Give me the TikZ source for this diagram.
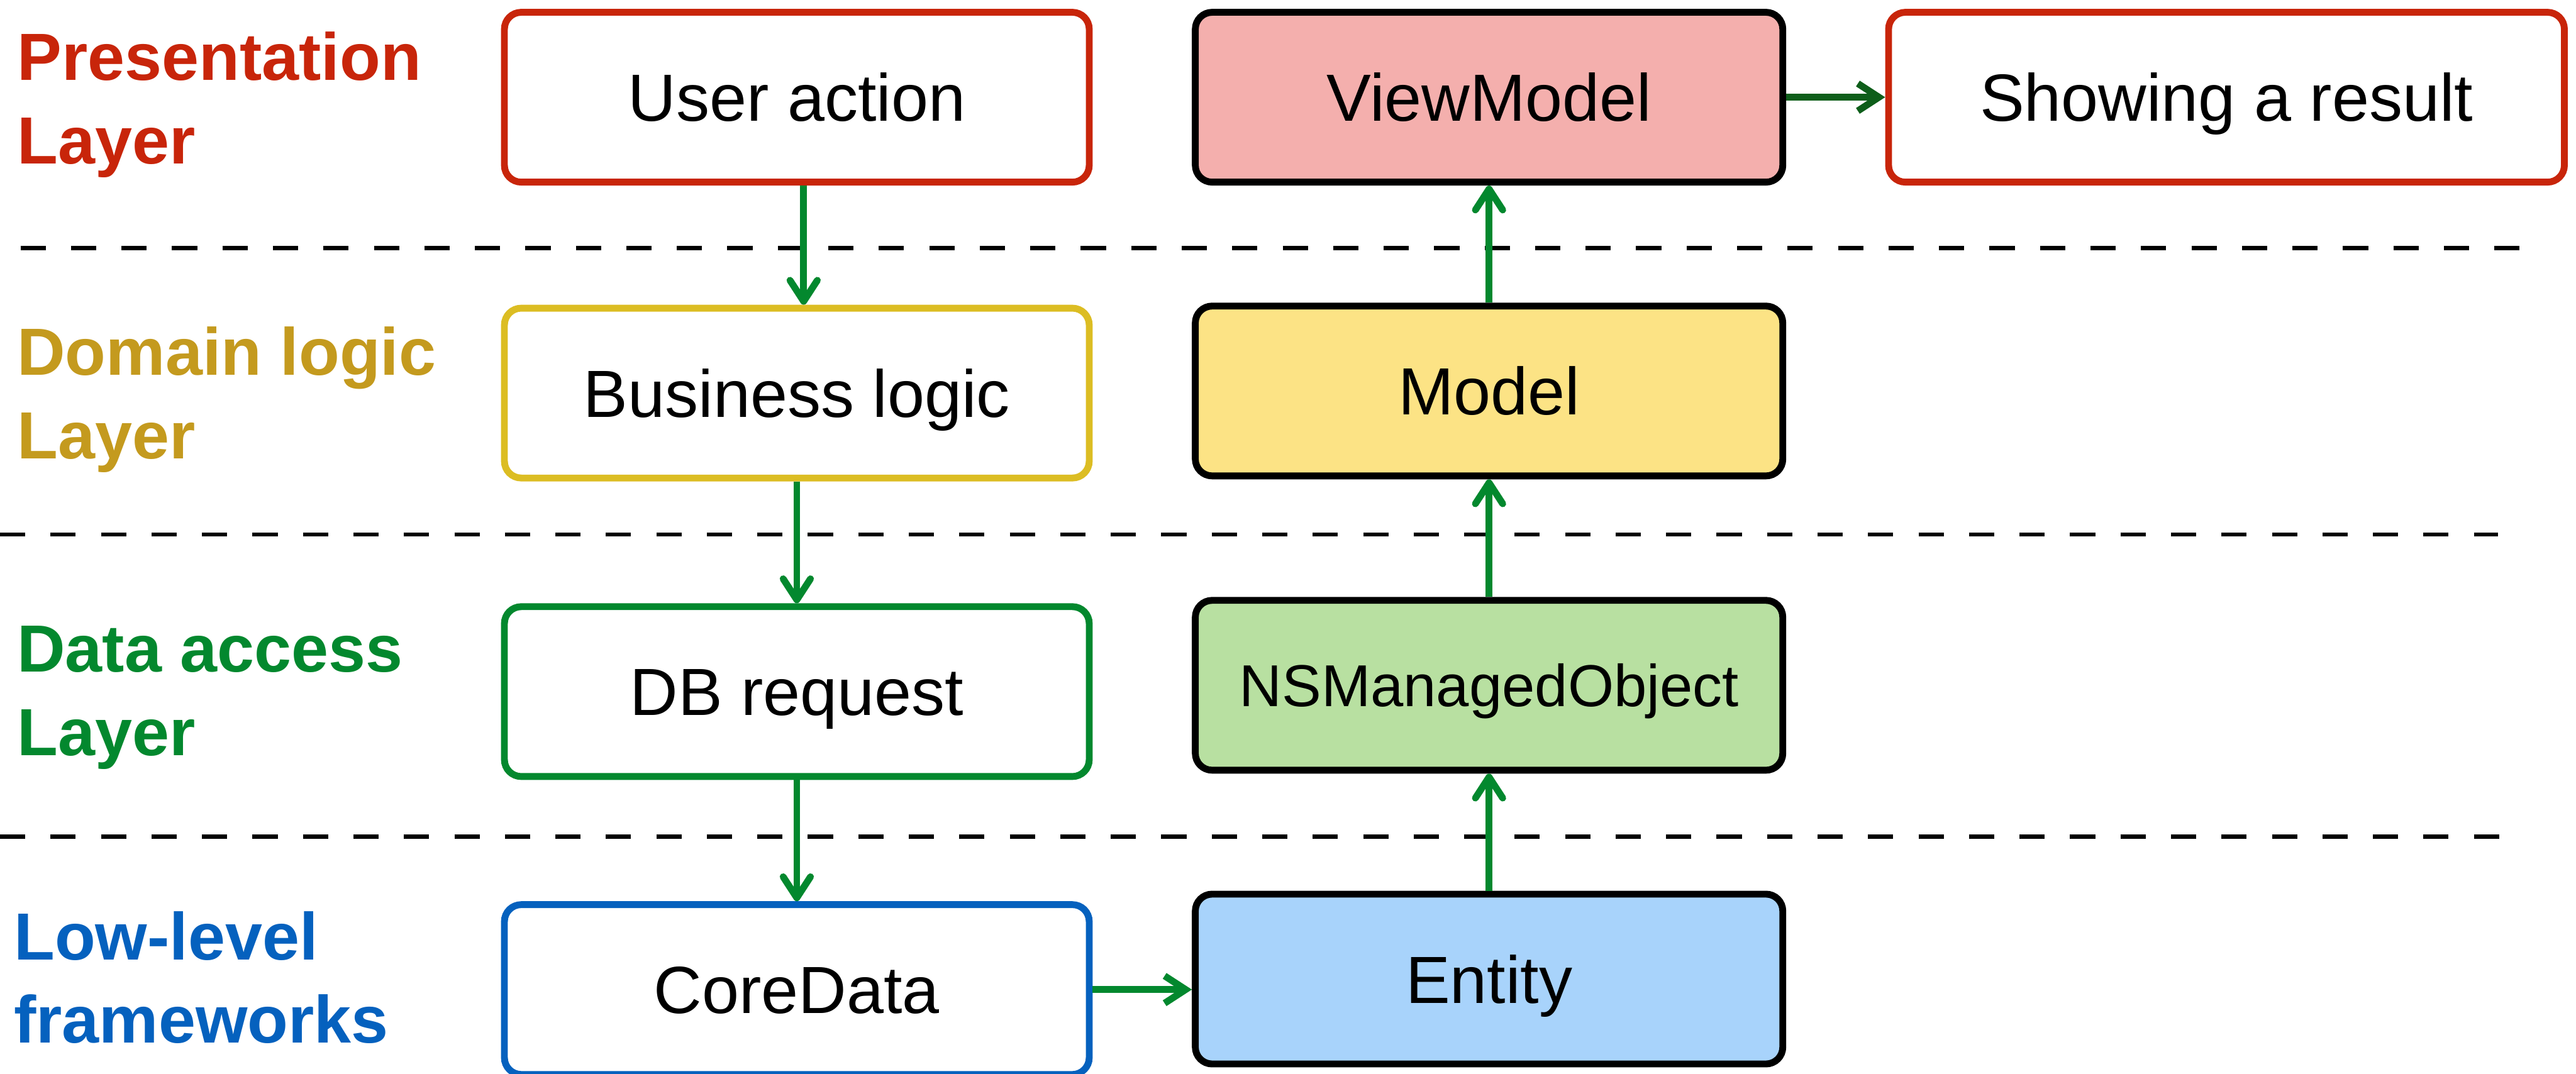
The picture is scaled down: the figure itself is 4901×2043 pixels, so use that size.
\documentclass[tikz,border=0pt]{standalone}
\usepackage{fontspec}
\setmainfont{Liberation Sans}
\usetikzlibrary{arrows.meta}
\definecolor{cRed}{HTML}{C8250A}
\definecolor{cGoldText}{HTML}{C49A1E}
\definecolor{cGold}{HTML}{DCBD23}
\definecolor{cGreen}{HTML}{03882E}
\definecolor{cBlue}{HTML}{0561BE}
\definecolor{cDarkGreen}{HTML}{0E5E1A}
\definecolor{fPink}{HTML}{F4AFAD}
\definecolor{fYellow}{HTML}{FCE385}
\definecolor{fGreen}{HTML}{B8E0A1}
\definecolor{fBlue}{HTML}{A8D3FB}
\tikzset{
  box/.style={draw, line width=0.13cm, rounded corners=0.32cm, minimum height=3.23cm,
    inner sep=0pt, text height=0.91cm, text depth=0cm, font=\fontsize{36.1}{43}\selectfont},
  leftbox/.style={box, minimum width=11.12cm},
  rightbox/.style={box, minimum width=11.17cm},
  layerlabel/.style={anchor=base west, inner sep=0pt, align=left,
    font=\fontsize{36.1}{45.2}\selectfont\bfseries},
  sep/.style={line width=0.08cm, dash pattern=on 0.48cm off 0.48cm},
  flow/.style={line width=0.13cm, draw=cGreen, -{Straight Barb[length=0.40cm, width=0.52cm, round]}},
  hflow/.style={line width=0.13cm, -{Straight Barb[length=0.40cm, width=0.52cm]}}
}
\begin{document}
\begin{tikzpicture}[x=0.01cm, y=-0.01cm]
\useasboundingbox (0,0) rectangle (4901,2043);
% separators
\coordinate (s1a) at (39,472);   \coordinate (s1b) at (4795,472);
\coordinate (s2a) at (0,1017);   \coordinate (s2b) at (4753,1017);
\coordinate (s3a) at (0,1592);   \coordinate (s3b) at (4757,1592);
\draw[sep] (s1a) -- (s1b);
\draw[sep] (s2a) -- (s2b);
\draw[sep] (s3a) -- (s3b);
% layer labels (anchored at the baseline of the last line)
\node[layerlabel, text=cRed] (lp) at (32,312) {Presentation\\Layer};
\node[layerlabel, text=cGoldText] (ld) at (32,873) {Domain logic\\Layer};
\node[layerlabel, text=cGreen] (la) at (32,1438) {Data access\\Layer};
\node[layerlabel, text=cBlue] (ll) at (26,1985) {Low-level\\frameworks};
% left column
\node[leftbox, draw=cRed, fill=white] (ua) at (1516,185) {User action};
\node[leftbox, draw=cGold, fill=white] (bl) at (1516,748) {Business logic};
\node[leftbox, draw=cGreen, fill=white] (db) at (1516,1316) {DB request};
\node[leftbox, draw=cBlue, fill=white] (cd) at (1516,1883) {CoreData};
% right column
\node[rightbox, draw=black, fill=fPink] (vm) at (2833,185) {ViewModel};
\node[rightbox, draw=black, fill=fYellow] (md) at (2833,744) {Model};
\node[rightbox, draw=black, fill=fGreen, text height=0.81cm, font=\fontsize{32}{38}\selectfont] (ns) at (2833,1304) {NSManagedObject};
\node[rightbox, draw=black, fill=fBlue] (en) at (2833,1863) {Entity};
% result
\node[box, draw=cRed, fill=white, minimum width=12.85cm] (sr) at (4236,185) {Showing a result};
% connectors
\draw[flow] ([xshift=0.13cm]ua.south) -- ([xshift=0.13cm]ua.south |- bl.north);
\draw[flow] (bl.south) -- (db.north);
\draw[flow] (db.south) -- (cd.north);
\draw[flow] (en.north) -- (ns.south);
\draw[flow] (ns.north) -- (md.south);
\draw[flow] (md.north) -- (vm.south);
\draw[hflow, draw=cDarkGreen] (vm.east) -- (sr.west);
\draw[hflow, draw=cGreen] (cd.east) -- (cd.east -| en.west);
\end{tikzpicture}
\end{document}
